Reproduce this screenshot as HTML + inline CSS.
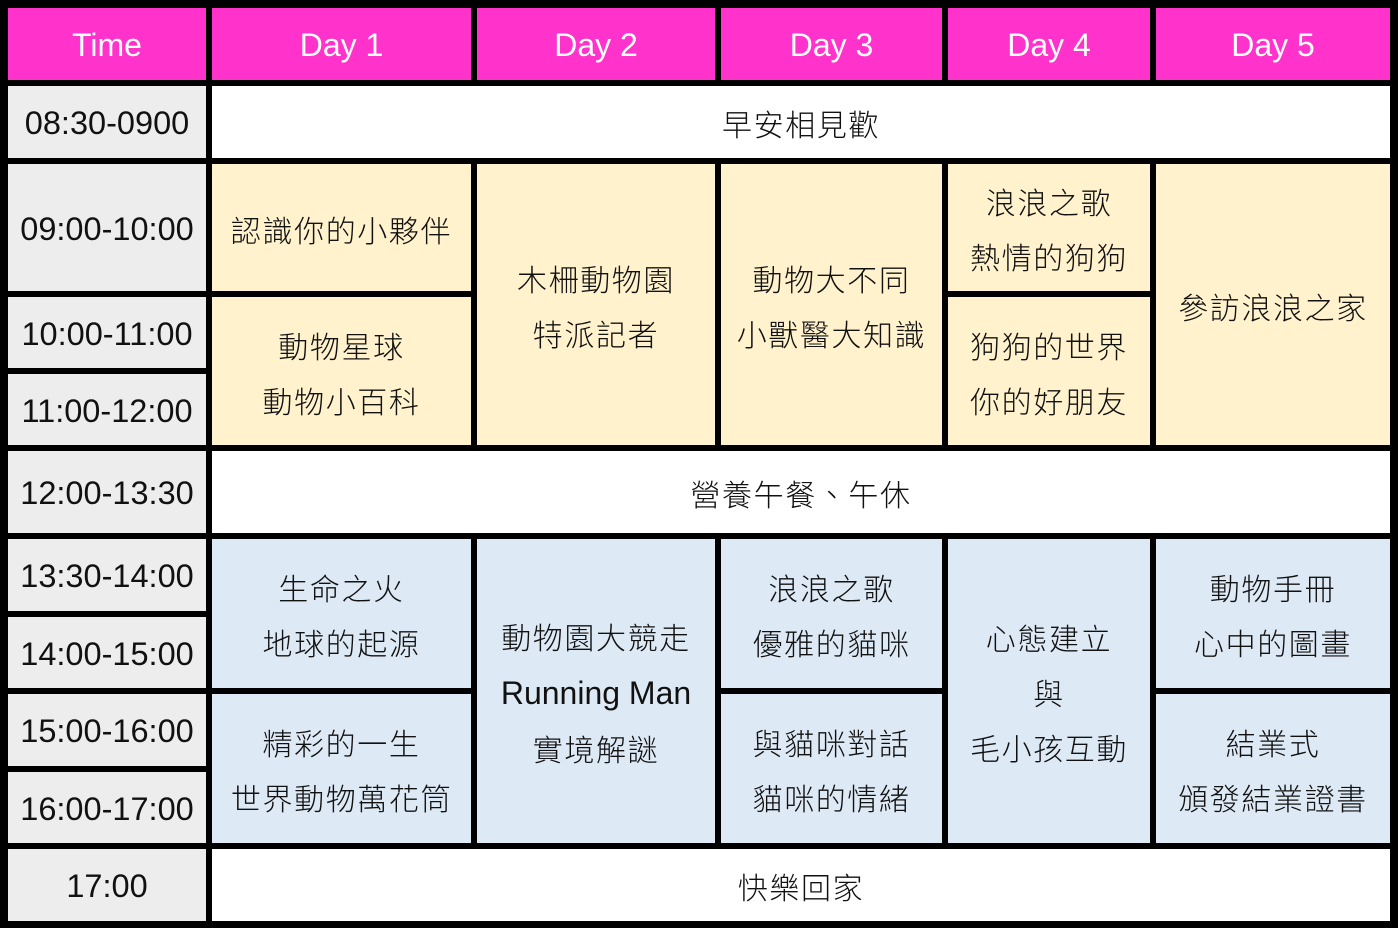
<!DOCTYPE html>
<html><head><meta charset="utf-8"><style>
body{margin:0;width:1398px;height:928px;background:#000;position:relative;overflow:hidden;font-family:"Liberation Sans","Noto Sans CJK TC",sans-serif;}
.c{position:absolute;display:flex;align-items:center;justify-content:center;text-align:center;color:#111;font-size:30px;line-height:55px;letter-spacing:1.6px;font-family:"Noto Sans CJK TC","Liberation Sans",sans-serif;font-weight:300;box-sizing:border-box;padding-top:3px}
.h{background:#ff33cc;color:#fff;font-family:"Liberation Sans","Noto Sans CJK TC",sans-serif;font-size:32px;letter-spacing:0;font-weight:400}
.t{background:#ededed;font-family:"Liberation Sans",sans-serif;font-size:32.5px;letter-spacing:0;font-weight:400}
.w{background:#fff}.y{background:#fff2cc}.b{background:#dee9f6}
.en{font-family:"Liberation Sans",sans-serif;font-size:32px;letter-spacing:0}
</style></head><body>
<div class="c h" style="left:8px;top:8px;width:198px;height:72px">Time</div>
<div class="c h" style="left:212px;top:8px;width:259px;height:72px">Day 1</div>
<div class="c h" style="left:477px;top:8px;width:238px;height:72px">Day 2</div>
<div class="c h" style="left:721px;top:8px;width:221px;height:72px">Day 3</div>
<div class="c h" style="left:948px;top:8px;width:202px;height:72px">Day 4</div>
<div class="c h" style="left:1156px;top:8px;width:234px;height:72px">Day 5</div>
<div class="c t" style="left:8px;top:86px;width:198px;height:72px">08:30-0900</div>
<div class="c t" style="left:8px;top:164px;width:198px;height:127px">09:00-10:00</div>
<div class="c t" style="left:8px;top:297px;width:198px;height:71px">10:00-11:00</div>
<div class="c t" style="left:8px;top:374px;width:198px;height:71px">11:00-12:00</div>
<div class="c t" style="left:8px;top:451px;width:198px;height:82px">12:00-13:30</div>
<div class="c t" style="left:8px;top:539px;width:198px;height:72px">13:30-14:00</div>
<div class="c t" style="left:8px;top:617px;width:198px;height:71px">14:00-15:00</div>
<div class="c t" style="left:8px;top:694px;width:198px;height:72px">15:00-16:00</div>
<div class="c t" style="left:8px;top:772px;width:198px;height:71px">16:00-17:00</div>
<div class="c t" style="left:8px;top:849px;width:198px;height:72px">17:00</div>
<div class="c w" style="left:212px;top:86px;width:1178px;height:72px">早安相見歡</div>
<div class="c w" style="left:212px;top:451px;width:1178px;height:82px">營養午餐、午休</div>
<div class="c w" style="left:212px;top:849px;width:1178px;height:72px">快樂回家</div>
<div class="c y" style="left:212px;top:164px;width:259px;height:127px">認識你的小夥伴</div>
<div class="c y" style="left:212px;top:297px;width:259px;height:148px">動物星球<br>動物小百科</div>
<div class="c y" style="left:477px;top:164px;width:238px;height:281px">木柵動物園<br>特派記者</div>
<div class="c y" style="left:721px;top:164px;width:221px;height:281px">動物大不同<br>小獸醫大知識</div>
<div class="c y" style="left:948px;top:164px;width:202px;height:127px">浪浪之歌<br>熱情的狗狗</div>
<div class="c y" style="left:948px;top:297px;width:202px;height:148px">狗狗的世界<br>你的好朋友</div>
<div class="c y" style="left:1156px;top:164px;width:234px;height:281px">參訪浪浪之家</div>
<div class="c b" style="left:212px;top:539px;width:259px;height:149px">生命之火<br>地球的起源</div>
<div class="c b" style="left:212px;top:694px;width:259px;height:149px">精彩的一生<br>世界動物萬花筒</div>
<div class="c b" style="left:477px;top:539px;width:238px;height:304px"><div>動物園大競走<br><span class="en">Running Man</span><br>實境解謎</div></div>
<div class="c b" style="left:721px;top:539px;width:221px;height:149px">浪浪之歌<br>優雅的貓咪</div>
<div class="c b" style="left:721px;top:694px;width:221px;height:149px">與貓咪對話<br>貓咪的情緒</div>
<div class="c b" style="left:948px;top:539px;width:202px;height:304px">心態建立<br>與<br>毛小孩互動</div>
<div class="c b" style="left:1156px;top:539px;width:234px;height:149px">動物手冊<br>心中的圖畫</div>
<div class="c b" style="left:1156px;top:694px;width:234px;height:149px">結業式<br>頒發結業證書</div>
</body></html>
